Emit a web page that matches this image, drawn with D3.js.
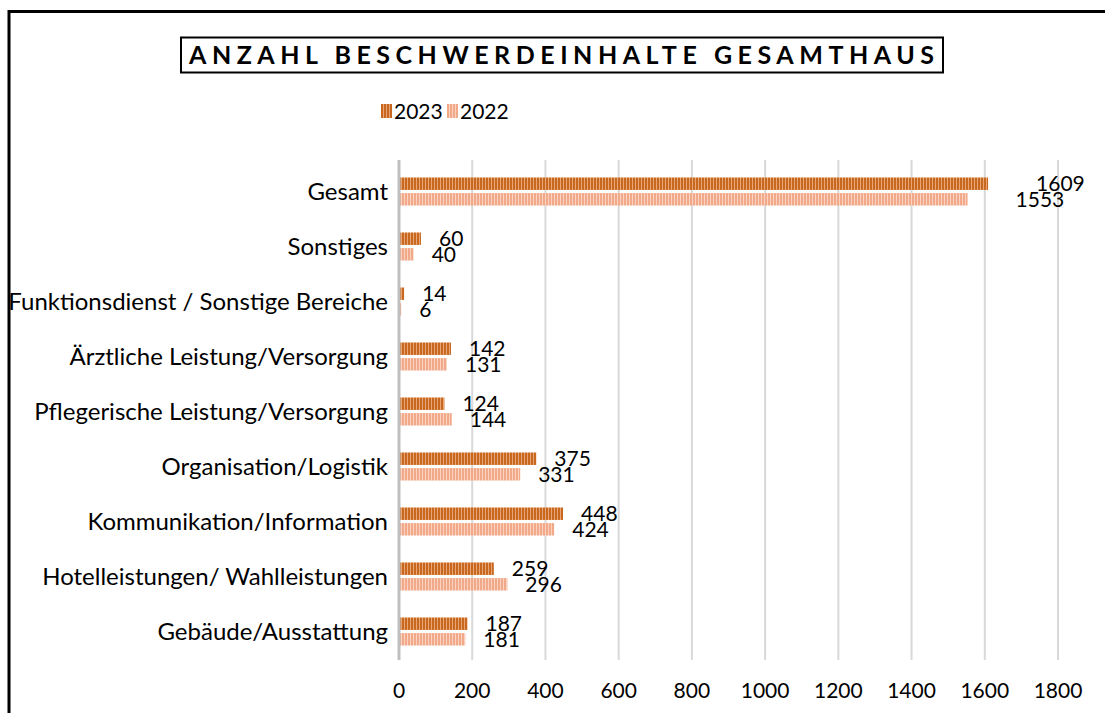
<!DOCTYPE html>
<html>
<head>
<meta charset="utf-8">
<script src="https://cdn.jsdelivr.net/npm/d3@7"></script>
<style>
  body { margin: 0; background: #fff; }
  svg { display: block; font-family: Lato, "Liberation Sans", sans-serif; }
</style>
</head>
<body>
<svg width="1105" height="713"></svg>
<script>
// chart data
const categories = [
  "Gesamt",
  "Sonstiges",
  "Funktionsdienst / Sonstige Bereiche",
  "Ärztliche Leistung/Versorgung",
  "Pflegerische Leistung/Versorgung",
  "Organisation/Logistik",
  "Kommunikation/Information",
  "Hotelleistungen/ Wahlleistungen",
  "Gebäude/Ausstattung"
];
const series = ["2023", "2022"];
const values2023 = [1609, 60, 14, 142, 124, 375, 448, 259, 187];
const values2022 = [1553, 40, 6, 131, 144, 331, 424, 296, 181];
const xTicks = [0, 200, 400, 600, 800, 1000, 1200, 1400, 1600, 1800];

const width = 1105, height = 713;
const svg = d3.select("svg");

// patterns for the striped bars
const defs = svg.append("defs");
const patternColors = {
  "2023": ["#c8681f", "#e8a577"],
  "2022": ["#f2a98a", "#f9d3c0"]
};
series.forEach(s => {
  const p = defs.append("pattern")
    .attr("id", "pat" + s)
    .attr("patternUnits", "userSpaceOnUse")
    .attr("width", 3).attr("height", 10);
  p.append("rect").attr("width", 3).attr("height", 10).attr("fill", patternColors[s][1]);
  p.append("rect").attr("width", 2).attr("height", 10).attr("fill", patternColors[s][0]);
});

// outer frame (cut off at right and bottom)
svg.append("rect")
  .attr("x", 9).attr("y", 11.5)
  .attr("width", 1200).attr("height", 800)
  .attr("fill", "none").attr("stroke", "#000").attr("stroke-width", 3);

// title box
svg.append("rect")
  .attr("x", 181).attr("y", 37.5)
  .attr("width", 762).attr("height", 35)
  .attr("fill", "#fff").attr("stroke", "#000").attr("stroke-width", 2);
svg.append("text")
  .attr("x", 189).attr("y", 64)
  .attr("font-size", "25px").attr("font-weight", "bold")
  .attr("textLength", 745).attr("lengthAdjust", "spacing")
  .text("ANZAHL BESCHWERDEINHALTE GESAMTHAUS");

// scales
const x = d3.scaleLinear().domain([0, 1800]).range([399, 1058]);
const y = d3.scaleBand().domain(categories).range([164, 659])
  .paddingInner(0.49).paddingOuter(0.245);
const ySub = d3.scaleBand().domain(series).range([0, y.bandwidth()]).paddingInner(0.2);

// gridlines
svg.append("g").selectAll("line")
  .data(xTicks.slice(1))
  .join("line")
  .attr("x1", d => x(d)).attr("x2", d => x(d))
  .attr("y1", 160).attr("y2", 660)
  .attr("stroke", "#d9d9d9").attr("stroke-width", 2);

// x tick labels
svg.append("g").selectAll("text")
  .data(xTicks)
  .join("text")
  .attr("x", d => x(d)).attr("y", 698)
  .attr("text-anchor", "middle")
  .attr("font-size", "21px")
  .text(d => d);

// bars
const rows = categories.map((c, i) => ({ cat: c, "2023": values2023[i], "2022": values2022[i] }));
const groups = svg.append("g").selectAll("g")
  .data(rows)
  .join("g")
  .attr("transform", d => `translate(0, ${y(d.cat)})`);

series.forEach(s => {
  groups.append("rect")
    .attr("x", x(0))
    .attr("y", ySub(s))
    .attr("width", d => x(d[s]) - x(0))
    .attr("height", ySub.bandwidth())
    .attr("fill", `url(#pat${s})`);

  // labels sit a bit further out on the long Gesamt bars, like the original
  groups.append("text")
    .attr("x", d => x(d[s]) + (d[s] > 1000 ? 48 : 18))
    .attr("y", ySub(s) + ySub.bandwidth() / 2)
    .attr("dy", "0.36em")
    .attr("font-size", "21px")
    .text(d => d[s]);
});

// category axis line
svg.append("line")
  .attr("x1", x(0)).attr("x2", x(0))
  .attr("y1", 160).attr("y2", 660)
  .attr("stroke", "#bfbfbf").attr("stroke-width", 3);

// category labels
svg.append("g").selectAll("text")
  .data(categories)
  .join("text")
  .attr("x", x(0) - 11)
  .attr("y", d => y(d) + y.bandwidth() / 2)
  .attr("dy", "0.36em")
  .attr("text-anchor", "end")
  .attr("font-size", "24px")
  .text(d => d);

// legend
const legend = svg.append("g").attr("transform", "translate(381, 104)");
const legendItems = legend.selectAll("g")
  .data(series)
  .join("g")
  .attr("transform", (d, i) => `translate(${i * 66}, 0)`);
legendItems.append("rect")
  .attr("width", 11).attr("height", 14)
  .attr("fill", d => `url(#pat${d})`);
legendItems.append("text")
  .attr("x", 13).attr("y", 7)
  .attr("dy", "0.36em")
  .attr("font-size", "21px")
  .text(d => d);
</script>
</body>
</html>
